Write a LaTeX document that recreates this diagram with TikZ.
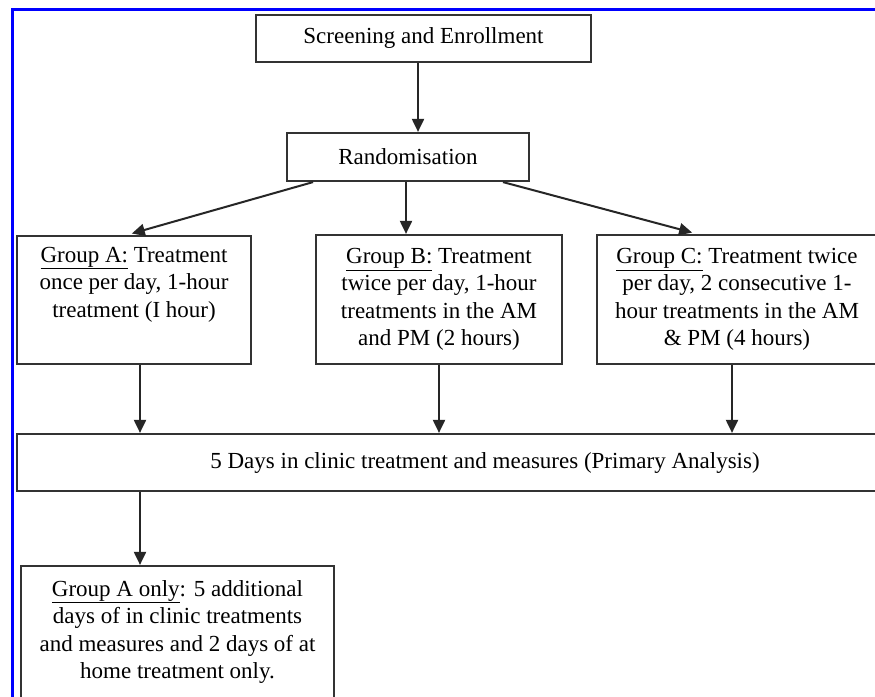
\documentclass[tikz,border=0pt]{standalone}
\usepackage{fontspec}
\setmainfont{Liberation Serif}
\usepackage{tikz}
\usetikzlibrary{arrows.meta}

\begin{document}
\begin{tikzpicture}[x=1pt, y=-1pt,
		box/.style={draw=black!80, line width=2.2pt, align=center, inner sep=0pt, font=\fontsize{23}{27.5}\selectfont},
		arr/.style={draw=black!85, line width=2pt, -{Triangle[length=13pt,width=12pt]}}]
		\useasboundingbox (0,0) rectangle (875,696);
		\clip (0,0) rectangle (875,696);
		\fill[white] (0,0) rectangle (875,696);
		\draw[blue, line width=3pt] (12.5,720) |- (900,9.5);
		\node[box, minimum width=335, minimum height=47] (screen) at (423.5,38.5) {Screening and Enrollment};
		\node[box, minimum width=242, minimum height=48] (rand) at (408,157) {Randomisation};
		\node[box, minimum width=234, minimum height=128] (grpA) at (134,300) {\underline{Group A:} Treatment\\once per day, 1-hour\\treatment (I hour)\\\strut};
		\node[box, minimum width=246, minimum height=129] (grpB) at (439,299.5) {\underline{Group B:} Treatment\\twice per day, 1-hour\\treatments in the AM\\and PM (2 hours)};
		\node[box, minimum width=280, minimum height=129] (grpC) at (737,299.5) {\underline{Group C:} Treatment twice\\per day, 2 consecutive 1-\\hour treatments in the AM\\\& PM (4 hours)};
		\node[box, minimum width=936, minimum height=57] (days) at (485,462.5) {5 Days in clinic treatment and measures (Primary Analysis)};
		\node[box, minimum width=313, minimum height=132] (onlyA) at (177.5,632) {\underline{Group A only}: 5 additional\\days of in clinic treatments\\and measures and 2 days of at\\home treatment only.};
		\coordinate (xs) at (418,0);
		\coordinate (xb) at (406,0);
		\coordinate (xl) at (313,0);
		\coordinate (xla) at (127,0);
		\coordinate (xr) at (503,0);
		\coordinate (xrc) at (697,0);
		\coordinate (xa) at (140,0);
		\coordinate (xc) at (732,0);
		\draw[arr] (screen.south -| xs) -- (rand.north -| xs);
		\draw[arr] (rand.south -| xb) -- (grpB.north -| xb);
		\draw[arr, shorten >=5pt] (rand.south -| xl) -- (grpA.north -| xla);
		\draw[arr, shorten >=5pt] (rand.south -| xr) -- (grpC.north -| xrc);
		\draw[arr] (grpA.south -| xa) -- (days.north -| xa);
		\draw[arr] (grpB) -- (days.north -| grpB);
		\draw[arr] (grpC.south -| xc) -- (days.north -| xc);
		\draw[arr] (days.south -| xa) -- (onlyA.north -| xa);
	\end{tikzpicture}
\end{document}
